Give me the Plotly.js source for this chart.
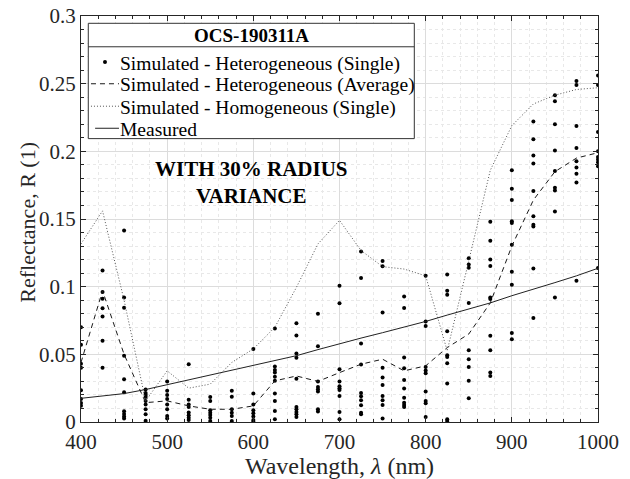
<!DOCTYPE html>
<html>
<head>
<meta charset="utf-8">
<script src="https://cdn.plot.ly/plotly-3.0.1.min.js"></script>
<style>html,body{margin:0;padding:0;background:#fff;}#chart{width:630px;height:479px;}</style>
</head>
<body>
<div id="chart"></div>
<script>
// Wavelength grid (nm)
const wavelengths = [400, 425, 450, 475, 500, 525, 550, 575, 600, 625, 650, 675, 700, 725, 750, 775, 800, 825, 850, 875, 900, 925, 950, 975, 1000];

// Simulated - Heterogeneous (Single): scattered values per wavelength
const singleValues = [
  [0.070, 0.057, 0.043, 0.040, 0.0235, 0.017, 0.014, 0.012],
  [0.112, 0.096, 0.091, 0.084, 0.078, 0.060, 0.040],
  [0.1415, 0.092, 0.0845, 0.049, 0.0316, 0.022, 0.008, 0.006, 0.004, 0.0025],
  [0.024, 0.0215, 0.020, 0.0185, 0.0155, 0.013, 0.0095, 0.0057, 0.001],
  [0.030, 0.023, 0.020, 0.017, 0.013, 0.0094, 0.0044, 0.0025],
  [0.0427, 0.0165, 0.013, 0.011, 0.007, 0.005, 0.0032, 0.0015],
  [0.0185, 0.0156, 0.0086, 0.0069, 0.0052, 0.0032, 0.0008],
  [0.023, 0.0187, 0.0094, 0.0069, 0.0044, 0.0008],
  [0.054, 0.021, 0.013, 0.0086, 0.0064, 0.004, 0.0015, 0.0003],
  [0.069, 0.041, 0.0385, 0.0365, 0.0335, 0.0304, 0.021, 0.0156, 0.0081, 0.002],
  [0.073, 0.064, 0.0506, 0.0475, 0.032, 0.011, 0.0094, 0.0074, 0.0057, 0.0037],
  [0.080, 0.056, 0.030, 0.0259, 0.0242, 0.0225, 0.0094, 0.0077],
  [0.1007, 0.0877, 0.039, 0.030, 0.0265, 0.025, 0.0237, 0.0193, 0.0074, 0.002],
  [0.126, 0.1064, 0.058, 0.0425, 0.0215, 0.019, 0.016, 0.0123, 0.0069, 0.0057],
  [0.119, 0.115, 0.081, 0.040, 0.0328, 0.0274, 0.0193, 0.016, 0.0126, 0.0025],
  [0.0928, 0.0842, 0.0477, 0.0398, 0.0311, 0.0247, 0.018, 0.0143, 0.0126, 0.0111],
  [0.108, 0.0743, 0.071, 0.0407, 0.038, 0.036, 0.0225, 0.0156, 0.0138, 0.0037],
  [0.109, 0.097, 0.094, 0.067, 0.0494, 0.048, 0.0435, 0.0284, 0.002, 0.0007],
  [0.121, 0.1163, 0.114, 0.088, 0.053, 0.0464, 0.0407, 0.0304, 0.0175],
  [0.148, 0.134, 0.120, 0.1153, 0.092, 0.0909, 0.0637, 0.053, 0.0365, 0.034],
  [0.186, 0.1723, 0.164, 0.1484, 0.147, 0.131, 0.111, 0.1015, 0.0657, 0.0612],
  [0.222, 0.209, 0.197, 0.191, 0.1706, 0.152, 0.1457, 0.1444, 0.1135, 0.0768],
  [0.2415, 0.237, 0.220, 0.2007, 0.1854, 0.1731, 0.1711, 0.1555, 0.092],
  [0.252, 0.249, 0.2188, 0.2025, 0.1926, 0.188, 0.1835, 0.177, 0.1044],
  [0.256, 0.249, 0.2143, 0.200, 0.1958, 0.194, 0.192, 0.189, 0.1138]
];

// Simulated - Heterogeneous (Average)
const averageValues = [0.044, 0.097, 0.050, 0.0143, 0.0156, 0.0119, 0.0094, 0.0094, 0.0119, 0.0304, 0.034, 0.030, 0.0365, 0.0427, 0.0464, 0.0378, 0.0415, 0.055, 0.065, 0.088, 0.130, 0.164, 0.185, 0.195, 0.199];

// Simulated - Homogeneous (Single)
const homogeneousValues = [0.1316, 0.156, 0.090, 0.0156, 0.0378, 0.025, 0.028, 0.044, 0.054, 0.070, 0.0995, 0.1316, 0.149, 0.1267, 0.1148, 0.113, 0.108, 0.0526, 0.119, 0.186, 0.219, 0.235, 0.2415, 0.2457, 0.247];

// Measured
const measuredValues = [0.0175, 0.0190, 0.0210, 0.0240, 0.0275, 0.0310, 0.0345, 0.0380, 0.0415, 0.0450, 0.0490, 0.0535, 0.0580, 0.0620, 0.0660, 0.0700, 0.0743, 0.0790, 0.0835, 0.0880, 0.0933, 0.0980, 0.1030, 0.1080, 0.1136];

const seriesNames = [
  'Simulated - Heterogeneous (Single)',
  'Simulated - Heterogeneous (Average)',
  'Simulated - Homogeneous (Single)',
  'Measured'
];
const legendTitle = 'OCS-190311A';
const annotationText = 'WITH 30% RADIUS<br>VARIANCE';
const xTitle = 'Wavelength, <i>λ</i> (nm)';
const yTitle = 'Reflectance, R (1)';

// Build scatter points from per-wavelength lists
const singleX = [], singleY = [];
wavelengths.forEach((w, i) => {
  singleValues[i].forEach(v => { singleX.push(w); singleY.push(v); });
});

const FONT = 'Liberation Serif, Times New Roman, Times, serif';

const styles = [
  {mode: 'markers', marker: {color: '#000', size: 4, symbol: 'circle'}},
  {mode: 'lines', line: {color: '#1a1a1a', width: 1, dash: '5px,4px'}},
  {mode: 'lines', line: {color: '#555', width: 1, dash: '1px,2px'}},
  {mode: 'lines', line: {color: '#222', width: 1}}
];

const traces = [
  Object.assign({x: singleX, y: singleY, name: seriesNames[0], type: 'scatter'}, styles[0]),
  Object.assign({x: wavelengths, y: averageValues, name: seriesNames[1], type: 'scatter'}, styles[1]),
  Object.assign({x: wavelengths, y: homogeneousValues, name: seriesNames[2], type: 'scatter'}, styles[2]),
  Object.assign({x: wavelengths, y: measuredValues, name: seriesNames[3], type: 'scatter'}, styles[3])
];

const axisCommon = {
  showline: true, linecolor: '#262626', linewidth: 1, mirror: 'ticks',
  ticks: 'inside', ticklen: 5, tickcolor: '#262626', tickwidth: 1,
  showgrid: true, gridcolor: '#dcdcdc', gridwidth: 1,
  zeroline: false,
  tickfont: {family: FONT, size: 21, color: '#262626'},
};

// Hand-built legend box (paper coordinates)
const box = {x0: 0.0141, x1: 0.6447, y0: 0.698, y1: 0.982, sep: 0.9242};
const rowY = [0.8864, 0.8331, 0.7778, 0.7235];   // sample centres
const textY = [0.8830, 0.8290, 0.7740, 0.7195];  // text centres
const sampleX0 = 0.0193, sampleX1 = 0.0735, dotX = 0.0464, textX = 0.0716;

const shapes = [
  {type: 'rect', xref: 'paper', yref: 'paper', layer: 'above',
   x0: box.x0, x1: box.x1, y0: box.y0, y1: box.y1,
   fillcolor: '#ffffff', line: {color: '#333', width: 1}},
  {type: 'line', xref: 'paper', yref: 'paper', layer: 'above',
   x0: box.x0, x1: box.x1, y0: box.sep, y1: box.sep,
   line: {color: '#333', width: 1}},
  {type: 'circle', xref: 'paper', yref: 'paper', layer: 'above',
   xsizemode: 'pixel', ysizemode: 'pixel', xanchor: dotX, yanchor: rowY[0],
   x0: -2, x1: 2, y0: -2, y1: 2, fillcolor: '#000', line: {width: 0}},
  {type: 'line', xref: 'paper', yref: 'paper', layer: 'above',
   x0: sampleX0, x1: sampleX1, y0: rowY[1], y1: rowY[1], line: styles[1].line},
  {type: 'line', xref: 'paper', yref: 'paper', layer: 'above',
   x0: sampleX0, x1: sampleX1, y0: rowY[2], y1: rowY[2], line: styles[2].line},
  {type: 'line', xref: 'paper', yref: 'paper', layer: 'above',
   x0: sampleX0 + 0.008, x1: sampleX1, y0: rowY[3], y1: rowY[3], line: styles[3].line}
];

const annotations = [
  {x: 598, y: 0.177, xref: 'x', yref: 'y', xanchor: 'center', yanchor: 'middle', showarrow: false,
   text: '<b>' + annotationText + '</b>', align: 'center',
   font: {family: FONT, size: 21, color: '#000'}},
  {x: (box.x0 + box.x1) / 2, y: 0.9512, xref: 'paper', yref: 'paper',
   xanchor: 'center', yanchor: 'middle',
   showarrow: false, text: '<b>' + legendTitle + '</b>',
   font: {family: FONT, size: 19, color: '#000'}},
  {x: -0.1025, y: 0.491, xref: 'paper', yref: 'paper', xanchor: 'center', yanchor: 'middle',
   textangle: -90, showarrow: false, text: yTitle,
   font: {family: FONT, size: 22, color: '#262626'}}
];
seriesNames.forEach((n, i) => {
  annotations.push({x: textX, y: textY[i], xref: 'paper', yref: 'paper',
    xanchor: 'left', yanchor: 'middle', showarrow: false, text: n,
    font: {family: FONT, size: 19.5, color: '#000'}});
});

const layout = {
  width: 630, height: 479,
  margin: {l: 81, r: 32, t: 16, b: 57},
  paper_bgcolor: '#fff', plot_bgcolor: '#fff',
  showlegend: false,
  xaxis: Object.assign({}, axisCommon, {
    range: [400, 1000], dtick: 100, tick0: 400, ticklabelstandoff: 1,
    minor: {dtick: 20, showgrid: true, gridcolor: '#e8e8e8', griddash: 'dot', ticks: 'inside', ticklen: 3, tickcolor: '#262626'},
    title: {text: xTitle, font: {family: FONT, size: 24, color: '#262626'}, standoff: 0}
  }),
  yaxis: Object.assign({}, axisCommon, {
    range: [0, 0.3], dtick: 0.05, tick0: 0,
    minor: {dtick: 0.01, showgrid: true, gridcolor: '#e8e8e8', griddash: 'dot', ticks: 'inside', ticklen: 3, tickcolor: '#262626'}
  }),
  annotations: annotations,
  shapes: shapes
};

Plotly.newPlot('chart', traces, layout, {staticPlot: true, displayModeBar: false});
</script>
</body>
</html>
